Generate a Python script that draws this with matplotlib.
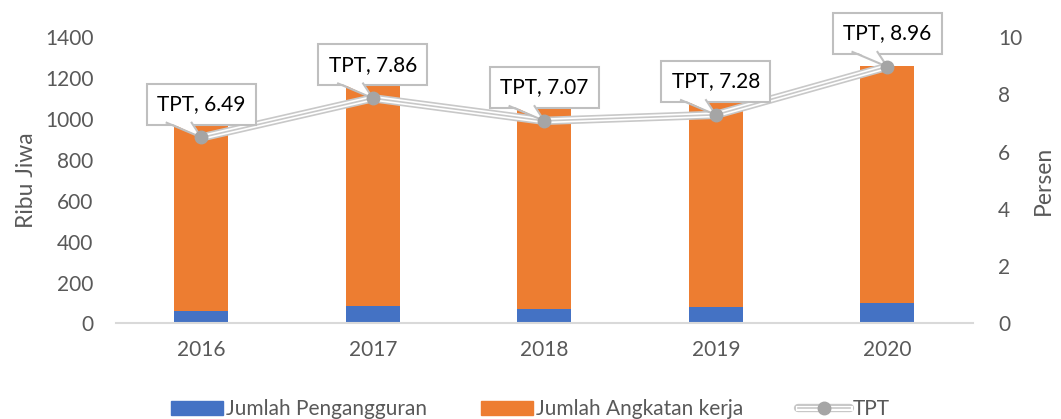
import numpy as np
import matplotlib
matplotlib.use("Agg")
import matplotlib.pyplot as plt
from matplotlib.patches import Patch, Polygon
from matplotlib.lines import Line2D
from matplotlib.transforms import IdentityTransform

plt.rcParams['font.family'] = ['Lato', 'DejaVu Sans']

years = ['2016', '2017', '2018', '2019', '2020']
pengangguran = [61, 86, 73, 81, 98]
angkatan_kerja = [919, 1084, 997, 1009, 1160]
tpt = [6.49, 7.86, 7.07, 7.28, 8.96]

blue = '#4472C4'
orange = '#ED7D31'
txt = '#595959'
lgray = '#C8C8C8'
boxgray = '#BFBFBF'

fig = plt.figure(figsize=(10.61, 4.19), dpi=100)
ax = fig.add_axes([0.109, 0.228, 0.808, 0.684])
ax2 = ax.twinx()

x = np.arange(len(years))
w = 0.315
ax.bar(x, pengangguran, w, color=blue, linewidth=0)
ax.bar(x, angkatan_kerja, w, bottom=pengangguran, color=orange, linewidth=0)

ax.set_xlim(-0.5, len(years) - 0.5)
ax.set_ylim(0, 1400)
ax.set_yticks(range(0, 1401, 200))
ax.set_xticks(x)
ax.set_xticklabels(years)
ax2.set_ylim(0, 10)
ax2.set_yticks(range(0, 11, 2))

for a in (ax, ax2):
    for s in a.spines.values():
        s.set_visible(False)
    a.tick_params(length=0, labelsize=15, labelcolor=txt)
ax.spines['bottom'].set_visible(True)
ax.spines['bottom'].set_color('#D9D9D9')
ax.spines['bottom'].set_linewidth(1.5)
ax.tick_params(axis='x', pad=12)
ax.tick_params(axis='y', pad=16)
ax2.tick_params(axis='y', pad=18)

ax.set_ylabel('Ribu Jiwa', fontsize=16.5, color=txt, labelpad=6)
ax2.set_ylabel('Persen', fontsize=16.5, color=txt, labelpad=8)

# TPT line drawn as a double line (gray - white - gray)
ax2.plot(x, tpt, color=lgray, lw=6, solid_capstyle='round', zorder=3)
ax2.plot(x, tpt, color='white', lw=3.6, zorder=4)
ax2.plot(x, tpt, color=lgray, lw=1.2, zorder=5)
ax2.plot(x, tpt, ls='none', marker='o', ms=9, color='#A5A5A5', zorder=13)

# callout labels: box above the point with a slanted pointer
k = fig.dpi / 72
base_l, base_r, base_y = -25, -7, 10.6
for xi, v in zip(x, tpt):
    ax2.annotate(f'TPT, {v:.2f}', xy=(xi, v), xytext=(0, 24),
                 textcoords='offset points', ha='center', va='center',
                 fontsize=15, color='black', zorder=10,
                 bbox=dict(boxstyle='square,pad=0.5', fc='white', ec=boxgray, lw=1.5))
    px, py = ax2.transData.transform((xi, v))
    pts = np.array([[base_l, base_y + 1.2], [base_r, base_y + 1.2], [0, 0]]) * k + [px, py]
    ax2.add_patch(Polygon(pts, closed=True, fc='white', ec='none', zorder=11,
                          transform=IdentityTransform(), clip_on=False))
    sides = np.array([[base_l, base_y], [0, 0], [base_r, base_y]]) * k + [px, py]
    ax2.add_line(Line2D(sides[:, 0], sides[:, 1], color=boxgray, lw=1.5, zorder=12,
                        transform=IdentityTransform(), clip_on=False))

tpt_handle = (Line2D([], [], color=lgray, lw=6, solid_capstyle='round'),
              Line2D([], [], color='white', lw=3.6),
              Line2D([], [], color=lgray, lw=1.2, marker='o', ms=9,
                     mfc='#A5A5A5', mec='#A5A5A5'))
handles = [Patch(color=blue), Patch(color=orange), tpt_handle]
labels = ['Jumlah Pengangguran', 'Jumlah Angkatan kerja', 'TPT']
leg = fig.legend(handles, labels, loc='lower center', bbox_to_anchor=(0.5, -0.045),
                 ncol=3, frameon=False, fontsize=15, handlelength=2.5,
                 handletextpad=0.15, columnspacing=2.6)
for t in leg.get_texts():
    t.set_color(txt)

fig.savefig('out.png', dpi=100)
